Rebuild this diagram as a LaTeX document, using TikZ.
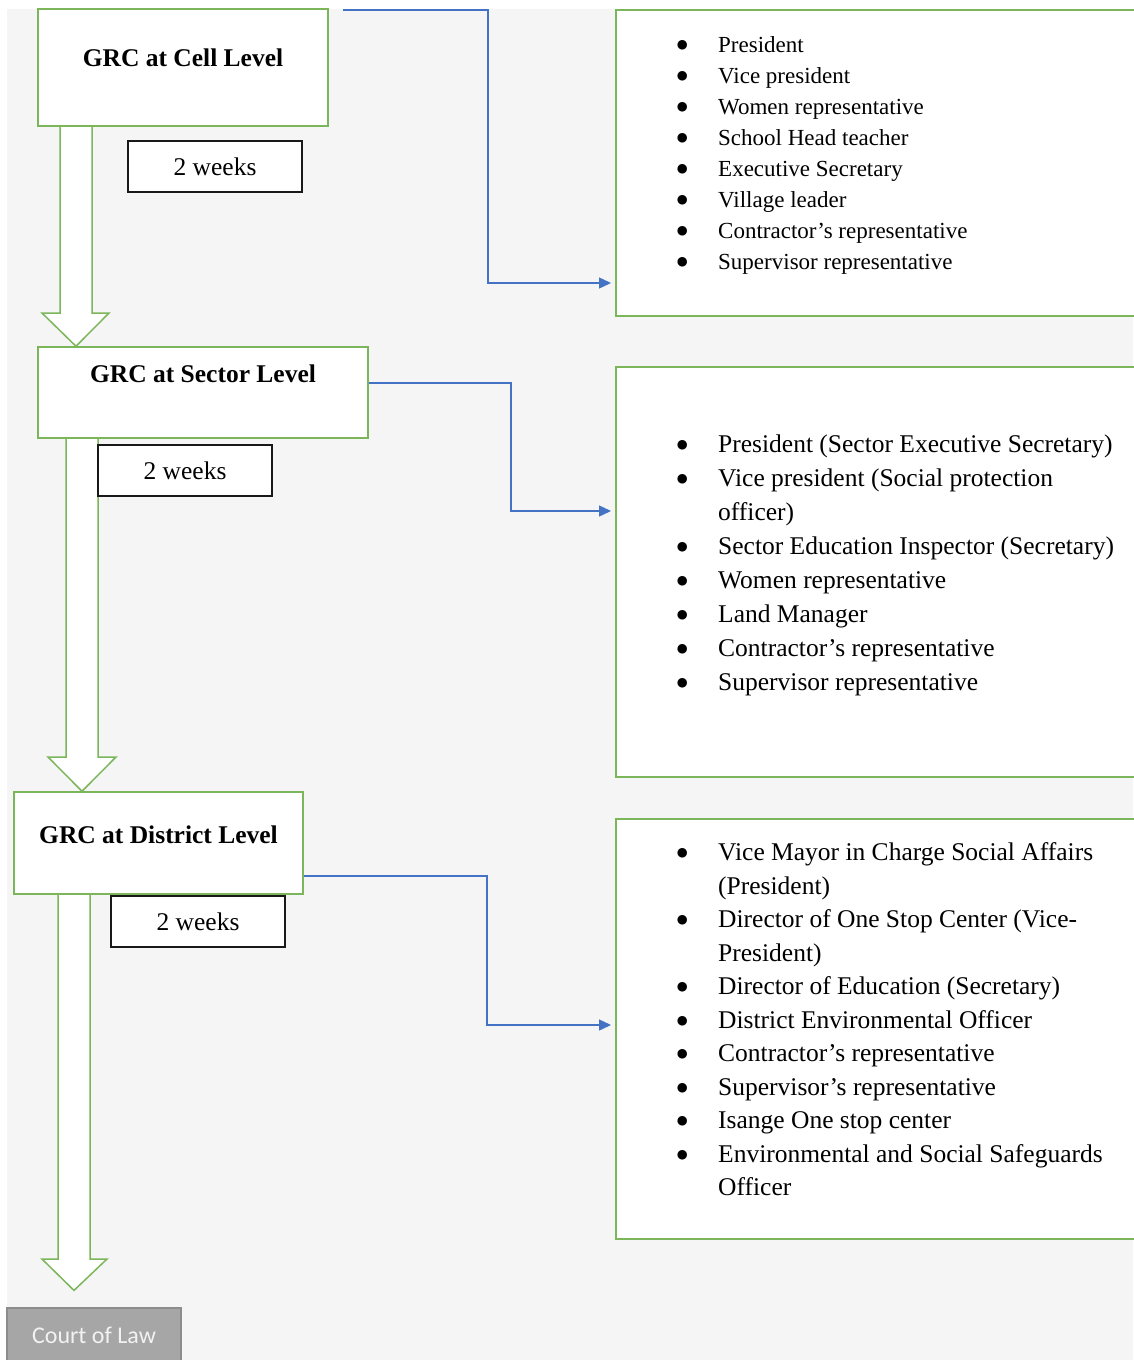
\documentclass[tikz,border=0pt]{standalone}
\usepackage{fontspec}
\setmainfont{Liberation Serif}
\newfontfamily\courtfont{Carlito}
\newfontfamily\dotfont{DejaVu Sans}
\usetikzlibrary{arrows.meta,calc,backgrounds}
\definecolor{grcgreen}{HTML}{7CB65A}
\definecolor{grcblue}{HTML}{4472C4}
\definecolor{pagegray}{HTML}{F5F5F5}
\definecolor{courtgray}{HTML}{A6A6A6}
\definecolor{courtline}{HTML}{8C8C8C}
\newcommand{\grcbullet}{\makebox[8pt][c]{\raisebox{4pt}{\dotfont\fontsize{12.5}{12.5}\selectfont ●}}}
\tikzset{
  level/.style={draw=grcgreen, fill=white, line width=1.5pt, inner sep=0pt,
    font=\fontsize{25.5}{30}\selectfont\bfseries},
  members/.style={draw=grcgreen, fill=white, line width=1.5pt, inner sep=0pt,
    anchor=north west, minimum width=540pt},
  items/.style={inner sep=0pt, anchor=north west},
  weeks/.style={draw=black!90, fill=white, line width=1.5pt, inner sep=0pt,
    minimum width=174pt, minimum height=51pt, font=\fontsize{25.5}{30}\selectfont},
  court/.style={draw=courtline, fill=courtgray, line width=1.2pt, inner sep=0pt,
    minimum width=174pt, minimum height=54pt, text=white!95!black,
    font=\courtfont\fontsize{24}{28}\selectfont},
  blockarr/.style={draw=grcgreen, fill=white, line width=1.5pt},
  link/.style={draw=grcblue, line width=1.4pt, -{Triangle[length=12pt,width=11pt]},
    shorten >=4pt},
}
\begin{document}
\begin{tikzpicture}[x=1pt,y=-1pt]
  \useasboundingbox (0,0) rectangle (1133,1360);

  % levels
  \node[level, minimum width=290pt, text height=57pt, text depth=60pt, anchor=base]
    (cell) at (183,66) {GRC at Cell Level};
  \node[level, minimum width=330pt, text height=35pt, text depth=56pt, anchor=base]
    (sector) at (203,382) {GRC at Sector Level};
  \node[level, minimum width=289pt, text height=51pt, text depth=51pt, anchor=base]
    (district) at (158.5,843) {GRC at District Level};
  \node[court] (court) at (94,1335) {Court of Law};

  \node[weeks] (cellweeks) at (215,166.5) {2 weeks};
  \node[weeks] (sectorweeks) at (185,470.5) {2 weeks};
  \node[weeks] (districtweeks) at (198,921.5) {2 weeks};

  % members
  \node[members, minimum height=306pt] (celllist) at (615,9) {};
  \node[members, minimum height=410pt] (sectorlist) at (615,366) {};
  \node[members, minimum height=420pt] (distlist) at (615,818) {};

  \node[items, font=\fontsize{23}{31}\selectfont] (cellitems)
    at ($(celllist.north west)+(63,21.3)$) {%
    \begin{tabular}{@{}l@{\hspace{32pt}}l@{}}
      \grcbullet & President\\
      \grcbullet & Vice president\\
      \grcbullet & Women representative\\
      \grcbullet & School Head teacher\\
      \grcbullet & Executive Secretary\\
      \grcbullet & Village leader\\
      \grcbullet & Contractor’s representative\\
      \grcbullet & Supervisor representative
    \end{tabular}};
  \node[items, font=\fontsize{25.5}{34}\selectfont] (sectoritems)
    at ($(sectorlist.north west)+(63,62.7)$) {%
    \begin{tabular}{@{}l@{\hspace{32pt}}l@{}}
      \grcbullet & President (Sector Executive Secretary)\\
      \grcbullet & Vice president (Social protection\\
                 & officer)\\
      \grcbullet & Sector Education Inspector (Secretary)\\
      \grcbullet & Women representative\\
      \grcbullet & Land Manager\\
      \grcbullet & Contractor’s representative\\
      \grcbullet & Supervisor representative
    \end{tabular}};
  \node[items, font=\fontsize{25.5}{33.5}\selectfont] (distitems)
    at ($(distlist.north west)+(63,19)$) {%
    \begin{tabular}{@{}l@{\hspace{32pt}}l@{}}
      \grcbullet & Vice Mayor in Charge Social Affairs\\
                 & (President)\\
      \grcbullet & Director of One Stop Center (Vice-\\
                 & President)\\
      \grcbullet & Director of Education (Secretary)\\
      \grcbullet & District Environmental Officer\\
      \grcbullet & Contractor’s representative\\
      \grcbullet & Supervisor’s representative\\
      \grcbullet & Isange One stop center\\
      \grcbullet & Environmental and Social Safeguards\\
                 & Officer
    \end{tabular}};

  % connectors
  \coordinate (cellin) at (343,10);
  \draw[link] (cellin) -| (488,283) -- (celllist.west |- 0,283);
  \draw[link] (sector.east |- 0,383) -| (511,511) -- (sectorlist.west |- 0,511);
  \draw[link] (district.east |- 0,876) -| (487,1025) -- (distlist.west |- 0,1025);

  \begin{scope}[on background layer]
    \fill[pagegray] (7,9) rectangle (1133,1360);
    \draw[blockarr] (60,0 |- cell.south) -- (60,313) -- (42,313)
      -- (76,0 |- sector.north) -- (109,313) -- (92,313) -- (92,0 |- cell.south);
    \draw[blockarr] (66,0 |- sector.south) -- (66,757) -- (48,757)
      -- (82,0 |- district.north) -- (116,757) -- (98,757) -- (98,0 |- sector.south);
    \draw[blockarr] (58,0 |- district.south) -- (58,1259) -- (42,1259)
      -- ($(74,0 |- court.north)+(0,-17)$) -- (107,1259) -- (90,1259)
      -- (90,0 |- district.south);
  \end{scope}
\end{tikzpicture}
\end{document}
